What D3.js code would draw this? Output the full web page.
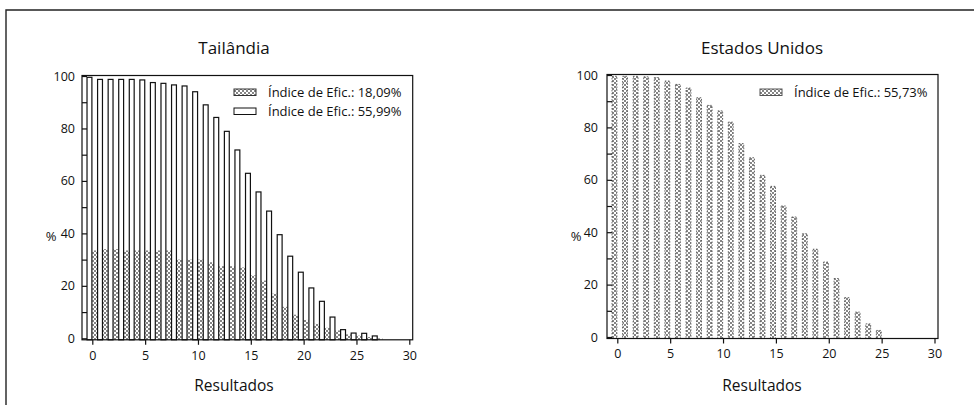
<!DOCTYPE html>
<html>
<head>
<meta charset="utf-8">
<script src="https://cdn.jsdelivr.net/npm/d3@7"></script>
<style>
  body { margin: 0; background: #fff; }
  svg { display: block; }
  text { font-family: "Open Sans", sans-serif; fill: #111; }
</style>
</head>
<body>
<svg id="chart" width="974" height="405"></svg>
<script>
// Tailândia: resultados 0..27
const resultadosTH = [0,1,2,3,4,5,6,7,8,9,10,11,12,13,14,15,16,17,18,19,20,21,22,23,24,25,26,27];
// Índice de Efic.: 18,09% (hachurado)
const thEfic18 = [33.5,34,34,33.5,33.5,33.5,33.5,33.5,30,30,30,29,27.5,27.5,27,24,22,17,12,9,7,5.5,4,3,1.5,1,0.5,0];
// Índice de Efic.: 55,99% (branco)
const thEfic56 = [99.5,98.7,98.7,98.7,98.7,98.5,97.5,97.2,96.6,96.2,94,89,84.2,78.9,71.8,62.9,55.8,48.5,39.5,31.3,25.2,19.2,14.1,8.1,3.3,2,1.9,0.9];

// Estados Unidos: resultados 0..25
const resultadosUS = [0,1,2,3,4,5,6,7,8,9,10,11,12,13,14,15,16,17,18,19,20,21,22,23,24,25];
// Índice de Efic.: 55,73%
const usEfic56 = [99.5,99.5,99.5,99.3,99,97.7,96.4,95,91.3,88.4,86.3,82,73.8,68.4,61.7,57.5,50,45.8,39.4,33.5,28.6,22.3,15,9.5,5,2.5];

const xTickVals = [0,5,10,15,20,25,30];
const yTickVals = [0,10,20,30,40,50,60,70,80,90,100];

const svg = d3.select("#chart");

// hachura cinza (padrão xadrez fino)
const defs = svg.append("defs");
const pat = defs.append("pattern")
  .attr("id", "hatch")
  .attr("patternUnits", "userSpaceOnUse")
  .attr("width", 4).attr("height", 4);
pat.append("rect").attr("width", 4).attr("height", 4).attr("fill", "#fff");
pat.append("rect").attr("width", 2).attr("height", 2).attr("fill", "#858585");
pat.append("rect").attr("x", 2).attr("y", 2).attr("width", 2).attr("height", 2).attr("fill", "#858585");

//moldura externa da figura
svg.append("path")
  .attr("d", "M6,405V10H974")
  .attr("fill", "none")
  .attr("stroke", "#222")
  .attr("stroke-width", 1.4);

function drawPanel(p) {
  const x = d3.scaleLinear().domain([0, 30]).range([p.x0, p.x30]);
  const y = d3.scaleLinear().domain([0, 100]).range([p.y0, p.y100]);
  const g = svg.append("g");
  const bottom = p.y0 + 1.5;

  // bars
  p.series.forEach(s => {
    g.append("g").selectAll("rect")
      .data(s.values)
      .enter()
      .append("rect")
      .attr("x", (d, i) => x(p.cats[i] + s.offset))
      .attr("width", x(0.5) - x(0) - 0.4)
      .attr("y", d => y(d))
      .attr("height", d => bottom - y(d))
      .attr("fill", s.fill)
      .attr("stroke", s.stroke)
      .attr("stroke-width", s.strokeWidth)
      .attr("stroke-dasharray", s.dash);
  });

  // frame
  g.append("rect")
    .attr("x", p.axisX).attr("y", y(100) - 0.5)
    .attr("width", p.right - p.axisX)
    .attr("height", bottom - y(100) + 0.5)
    .attr("fill", "none")
    .attr("stroke", "#111")
    .attr("stroke-width", 1.2);

  // y axis (ticks inward)
  const yAxis = g.append("g")
    .attr("transform", `translate(${p.axisX},0)`)
    .call(d3.axisLeft(y)
      .tickValues(yTickVals)
      .tickFormat(d => d % 20 === 0 ? d : "")
      .tickSize(-5)
      .tickSizeOuter(0)
      .tickPadding(p.yPad));
  yAxis.select(".domain").remove();
  yAxis.selectAll("line").attr("stroke", "#111").attr("stroke-width", 1.2);
  yAxis.selectAll("text").attr("font-size", 12.5).attr("font-family", "Open Sans");

  // x axis
  const xAxis = g.append("g")
    .attr("transform", `translate(0,${bottom})`)
    .call(d3.axisBottom(x)
      .tickValues(xTickVals)
      .tickSize(5)
      .tickSizeOuter(0)
      .tickPadding(6));
  xAxis.select(".domain").remove();
  xAxis.selectAll("line").attr("stroke", "#111").attr("stroke-width", 1.2);
  xAxis.selectAll("text").attr("font-size", 12.5).attr("font-family", "Open Sans");

  // titles and labels
  g.append("text")
    .attr("x", p.titleX).attr("y", 54)
    .attr("text-anchor", "middle")
    .attr("font-size", 17)
    .text(p.title);
  g.append("text")
    .attr("x", p.titleX).attr("y", 391)
    .attr("text-anchor", "middle")
    .attr("font-size", 15.5)
    .text("Resultados");
  g.append("text")
    .attr("x", p.pctX).attr("y", 241)
    .attr("text-anchor", "middle")
    .attr("font-size", 13)
    .text("%");

  // legend
  p.series.forEach((s, i) => {
    const ly = p.legendY + i * 19;
    g.append("rect")
      .attr("x", p.legendX).attr("y", ly - 3)
      .attr("width", 22).attr("height", 6.5)
      .attr("fill", s.fill)
      .attr("stroke", s.legendStroke)
      .attr("stroke-width", 1);
    g.append("text")
      .attr("x", p.legendX + 34).attr("y", ly + 4.5)
      .attr("font-size", 13)
      .text(s.label);
  });
}

drawPanel({
  title: "Tailândia",
  titleX: 234,
  pctX: 51,
  axisX: 82,
  x0: 92.3, x30: 409.3, right: 412.7,
  y0: 338.3, y100: 76,
  yPad: 7,
  cats: resultadosTH,
  legendX: 234, legendY: 92,
  series: [
    { label: "Índice de Efic.: 18,09%", values: thEfic18, offset: 0,
      fill: "url(#hatch)", stroke: "none", strokeWidth: 0, dash: null, legendStroke: "#333" },
    { label: "Índice de Efic.: 55,99%", values: thEfic56, offset: -0.5,
      fill: "#fff", stroke: "#111", strokeWidth: 1.2, dash: null, legendStroke: "#111" }
  ]
});

drawPanel({
  title: "Estados Unidos",
  titleX: 762,
  pctX: 576,
  axisX: 607,
  x0: 617.3, x30: 934.5, right: 938,
  y0: 337, y100: 75,
  yPad: 9,
  cats: resultadosUS,
  legendX: 760, legendY: 92,
  series: [
    { label: "Índice de Efic.: 55,73%", values: usEfic56, offset: -0.5,
      fill: "url(#hatch)", stroke: "#444", strokeWidth: 0.8, dash: "1.5,1.5", legendStroke: "#555" }
  ]
});
</script>
</body>
</html>
